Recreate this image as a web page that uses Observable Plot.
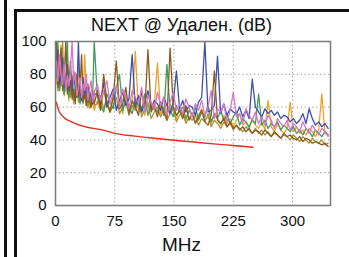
<!DOCTYPE html>
<html><head><meta charset="utf-8">
<script src="https://cdn.jsdelivr.net/npm/d3@7"></script>
<script src="https://cdn.jsdelivr.net/npm/@observablehq/plot@0.6"></script>
<style>
body{margin:0;background:#fff;width:349px;height:257px;overflow:hidden;position:relative;font-family:Arial,"Liberation Sans",sans-serif;}
.bl{position:absolute;background:#111;}
#title{position:absolute;left:14px;width:335px;top:16px;text-align:center;font-size:18px;line-height:18px;color:#111;white-space:nowrap;}
#xlab{position:absolute;left:14px;width:335px;top:235px;text-align:center;font-size:19px;line-height:19px;color:#111;}
#chart{position:absolute;left:0;top:0;}
</style></head>
<body>
<div class="bl" style="left:4px;top:0;width:3px;height:257px"></div>
<div class="bl" style="left:14px;top:9px;width:3px;height:248px"></div>
<div class="bl" style="left:14px;top:9px;width:335px;height:3px"></div>
<div id="title">NEXT @ Удален. (dB)</div>
<div id="chart"></div>
<div id="xlab">MHz</div>
<script>
const freqLow = [1,3,5,7,9,11,13,15,17,19,21,23,25,27,29,31,33,35,37,39,41,43,45,47,49];
const freqHigh = [53,57,61,65,69,73,77,81,85,89,93,97,101,105,109,113,117,121,125,129,133,137,141,145,149,153,157,161,165,169,173,177,181,185,189,193,197,201,205,209,213,217,221,225,229,233,237,241,245,249,253,257,261,265,269,273,277,281,285,289,293,297,301,305,309,313,317,321,325,329,333,337,341,345];

const pinkLow = [88,76,92,80,74,86,70,79,73,84,100,75,81,67,72,78,66,74,70,80,64,71,76,63,69];
const pinkHigh = [74,64,70,76,62,69,73,60,71,65, 59,70,66,62,72,57,67,63,58,69, 61,66,55,63,69,58,62,56,65,60, 54,62,58,64,55,60,70,53,59,57, 62,51,58,69,54,56,50,59,55,52, 57,50,54,49,55,52,47,53,50,48, 52,46,50,48,45,51,47,44,49,46, 43,47,45,42];
const brownLow = [100,72,84,96,70,78,100,68,74,88,65,71,62,80,66,70,92,63,68,61,74,64,60,70,62];
const brownHigh = [70,58,80,63,57,66,88,59,62,72, 56,64,60,55,70,58,95,57,61,54, 63,57,52,96,60,55,58,53,61,52, 56,50,54,58,51,49,55,82,52,50, 53,48,51,47,49,46,48,45,47,44, 46,45,43,46,44,42,45,43,41,44, 42,43,41,40,42,39,41,40,38,39, 38,37,38,36];
const blueLow = [84,95,74,80,90,72,77,86,70,76,68,82,71,66,100,69,64,78,67,72,63,70,66,62,68];
const blueHigh = [68,62,75,60,66,71,58,64,69,61, 65,92,60,67,57,63,70,59,64,62, 58,66,61,56,63,82,59,64,57,61, 60,55,63,66,100,57,58,61,91,56, 62,55,59,57,56,60,54,58,53,77, 60,57,54,59,56,58,55,57,53,55, 54,51,53,50,52,56,50,59,53,49, 51,48,50,47];
const greenLow = [78,100,70,76,82,68,74,100,66,72,79,64,70,67,74,62,69,65,71,61,67,64,60,66,100];
const greenHigh = [66,61,57,68,63,59,72,80,58,64, 60,56,65,61,58,68,55,62,59,57, 63,55,86,58,54,61,57,60,53,58, 55,60,52,57,54,62,51,56,53,58, 52,55,50,54,57,49,53,51,48,52, 50,68,49,52,47,50,48,51,46,49, 47,45,48,44,46,43,47,45,42,46, 44,42,45,43];
const orangeLow = [74,88,70,98,73,67,80,71,64,76,69,62,72,66,88,63,70,65,92,68,64,59,66,62,58];
const orangeHigh = [64,58,70,61,57,66,60,63,56,68, 59,62,94,57,60,55,63,58,61,87, 56,60,54,62,57,53,59,55,52,58, 56,51,55,59,52,54,50,56,53,49, 55,50,53,48,52,56,49,51,47,53, 49,47,51,46,64,48,45,50,46,44, 47,63,45,48,44,46,43,47,45,42, 46,68,44,43];
const oliveLow = [96,70,78,73,100,68,75,70,82,66,72,68,64,77,63,69,66,62,72,64,60,67,63,65,61];
const oliveHigh = [62,67,59,64,57,61,66,56,60,63, 55,61,58,64,54,59,62,53,57,60, 54,58,52,56,60,51,55,57,50,54, 52,55,49,53,51,56,48,52,50,47, 51,48,50,46,49,47,45,48,46,44, 47,44,46,43,45,42,44,43,41,43, 42,40,43,41,39,42,40,38,41,39, 38,40,37,38];

const limitFreq = [1,4,10,20,38,60,75,100,125,150,175,200,225,250];
const limitVal = [63,58,54,51,48,46,44,42.3,41,39.8,38.7,37.6,36.6,35.5];

const xTicks = [0,75,150,225,300];
const yTicks = [0,20,40,60,80,100];

const freq = [...freqLow, ...freqHigh];
const series = [
  {name:"orange", color:"#f0a228", vals:[...orangeLow, ...orangeHigh]},
  {name:"olive", color:"#a89234", vals:[...oliveLow, ...oliveHigh]},
  {name:"green", color:"#3f9c5c", vals:[...greenLow, ...greenHigh]},
  {name:"blue", color:"#3b4fae", vals:[...blueLow, ...blueHigh]},
  {name:"brown", color:"#8c5a1e", vals:[...brownLow, ...brownHigh]},
  {name:"pink", color:"#d676c8", vals:[...pinkLow, ...pinkHigh]}
];
const limit = limitFreq.map((f,i)=>({f, v:limitVal[i]}));

const marks = [
  Plot.gridX(xTicks.filter(t=>t>0), {stroke:"#9c918a", strokeOpacity:1, strokeDasharray:"1.3,2.6", strokeWidth:1}),
  Plot.gridY(yTicks.filter(t=>t>0), {stroke:"#9c918a", strokeOpacity:1, strokeDasharray:"1.3,2.6", strokeWidth:1}),
];
for (const s of series) {
  marks.push(Plot.line(freq.map((f,i)=>({f, v:s.vals[i]})), {x:"f", y:"v", stroke:s.color, strokeWidth:1.3, clip:true}));
}
marks.push(Plot.line(limit, {x:"f", y:"v", stroke:"#e0301e", strokeWidth:1.4, curve:"monotone-x"}));
marks.push(Plot.frame({stroke:"#7a7a7a", strokeWidth:1.5}));
marks.push(Plot.axisX(xTicks, {tickSize:0, tickPadding:10, label:null, fontSize:15}));
marks.push(Plot.axisY(yTicks, {tickSize:0, tickPadding:9, label:null, fontSize:15}));

const chart = Plot.plot({
  width:349, height:257,
  marginLeft:55, marginRight:19, marginTop:41, marginBottom:52,
  x:{domain:[0,348]},
  y:{domain:[0,100]},
  style:{fontFamily:"Arial, 'Liberation Sans', sans-serif", fontSize:"15px", color:"#111", background:"transparent", overflow:"visible"},
  marks
});
document.getElementById("chart").appendChild(chart);
</script>
</body></html>
